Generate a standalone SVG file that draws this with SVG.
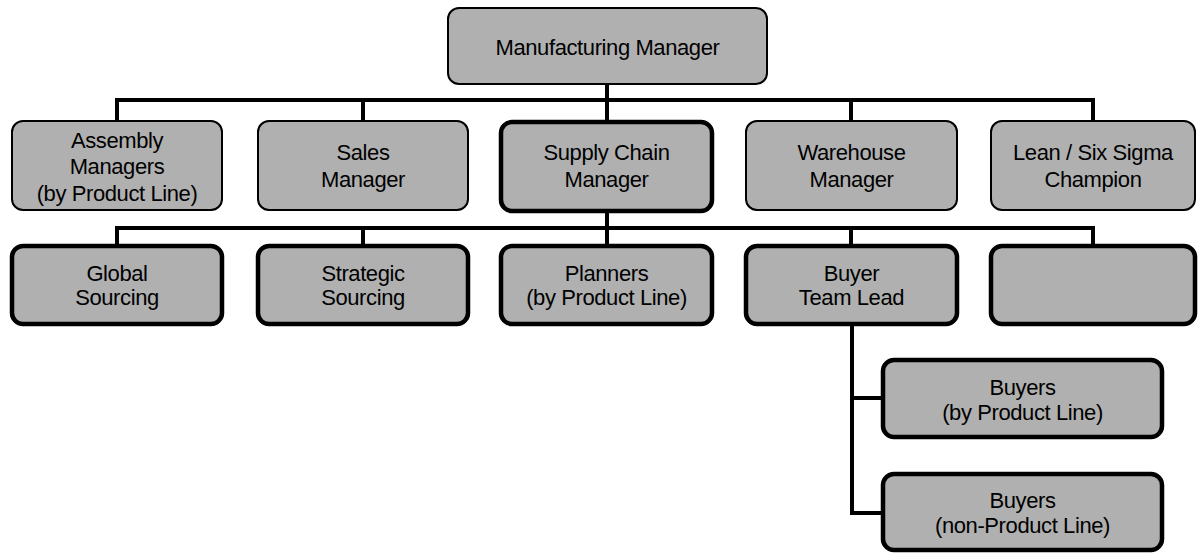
<svg xmlns="http://www.w3.org/2000/svg" width="1198" height="553" viewBox="0 0 1198 553">
<style>
.box{fill:#b0b0b0;stroke:#000;stroke-width:2}
.thick{stroke-width:4.5}
.lbl{font-family:"Liberation Sans",Arial,sans-serif;font-size:22px;letter-spacing:-0.4px;fill:#000;text-anchor:middle}
.con{stroke:#000;stroke-width:4;fill:none;stroke-linecap:square}
</style>
<rect width="1198" height="553" fill="#fff"/>
<g id="connectors">
<path class="con" d="M607,83 V121 M117,100 H1093 M117,100 V121 M363,100 V121 M851,100 V121 M1093,100 V121"/>
<path class="con" d="M607,212 V245 M117,228 H1093 M117,228 V245 M363,228 V245 M851,228 V245 M1093,228 V245"/>
<path class="con" d="M852,325 V513 H883 M852,398 H883"/>
</g>
<g id="n-mfg"><rect class="box" x="448" y="8" width="319" height="76" rx="11"/><text class="lbl" x="607.5" y="55">Manufacturing Manager</text></g>
<g id="n-assembly"><rect class="box" x="12" y="121" width="210" height="89" rx="11"/><text class="lbl" x="117" y="148">Assembly</text><text class="lbl" x="117" y="174">Managers</text><text class="lbl" x="117" y="201">(by Product Line)</text></g>
<g id="n-sales"><rect class="box" x="258" y="121" width="210" height="89" rx="11"/><text class="lbl" x="363" y="160">Sales</text><text class="lbl" x="363" y="187">Manager</text></g>
<g id="n-supply"><rect class="box thick" x="501" y="122" width="211" height="89" rx="11"/><text class="lbl" x="606.5" y="160">Supply Chain</text><text class="lbl" x="606.5" y="187">Manager</text></g>
<g id="n-warehouse"><rect class="box" x="746" y="121" width="211" height="89" rx="11"/><text class="lbl" x="851.5" y="160">Warehouse</text><text class="lbl" x="851.5" y="187">Manager</text></g>
<g id="n-lean"><rect class="box" x="991" y="121" width="204" height="89" rx="11"/><text class="lbl" x="1093" y="160">Lean / Six Sigma</text><text class="lbl" x="1093" y="187">Champion</text></g>
<g id="n-global"><rect class="box thick" x="12" y="246" width="210" height="78" rx="11"/><text class="lbl" x="117" y="281">Global</text><text class="lbl" x="117" y="305">Sourcing</text></g>
<g id="n-strategic"><rect class="box thick" x="258" y="246" width="210" height="78" rx="11"/><text class="lbl" x="363" y="281">Strategic</text><text class="lbl" x="363" y="305">Sourcing</text></g>
<g id="n-planners"><rect class="box thick" x="501" y="246" width="211" height="78" rx="11"/><text class="lbl" x="606.5" y="281">Planners</text><text class="lbl" x="606.5" y="305">(by Product Line)</text></g>
<g id="n-buyerlead"><rect class="box thick" x="746" y="246" width="211" height="78" rx="11"/><text class="lbl" x="851.5" y="281">Buyer</text><text class="lbl" x="851.5" y="305">Team Lead</text></g>
<g id="n-empty"><rect class="box thick" x="991" y="246" width="204" height="78" rx="11"/></g>
<g id="n-buyers-pl"><rect class="box thick" x="883" y="360" width="279" height="77" rx="11"/><text class="lbl" x="1022.5" y="395">Buyers</text><text class="lbl" x="1022.5" y="420">(by Product Line)</text></g>
<g id="n-buyers-npl"><rect class="box thick" x="883" y="474" width="279" height="76" rx="11"/><text class="lbl" x="1022.5" y="508">Buyers</text><text class="lbl" x="1022.5" y="533">(non-Product Line)</text></g>
</svg>
